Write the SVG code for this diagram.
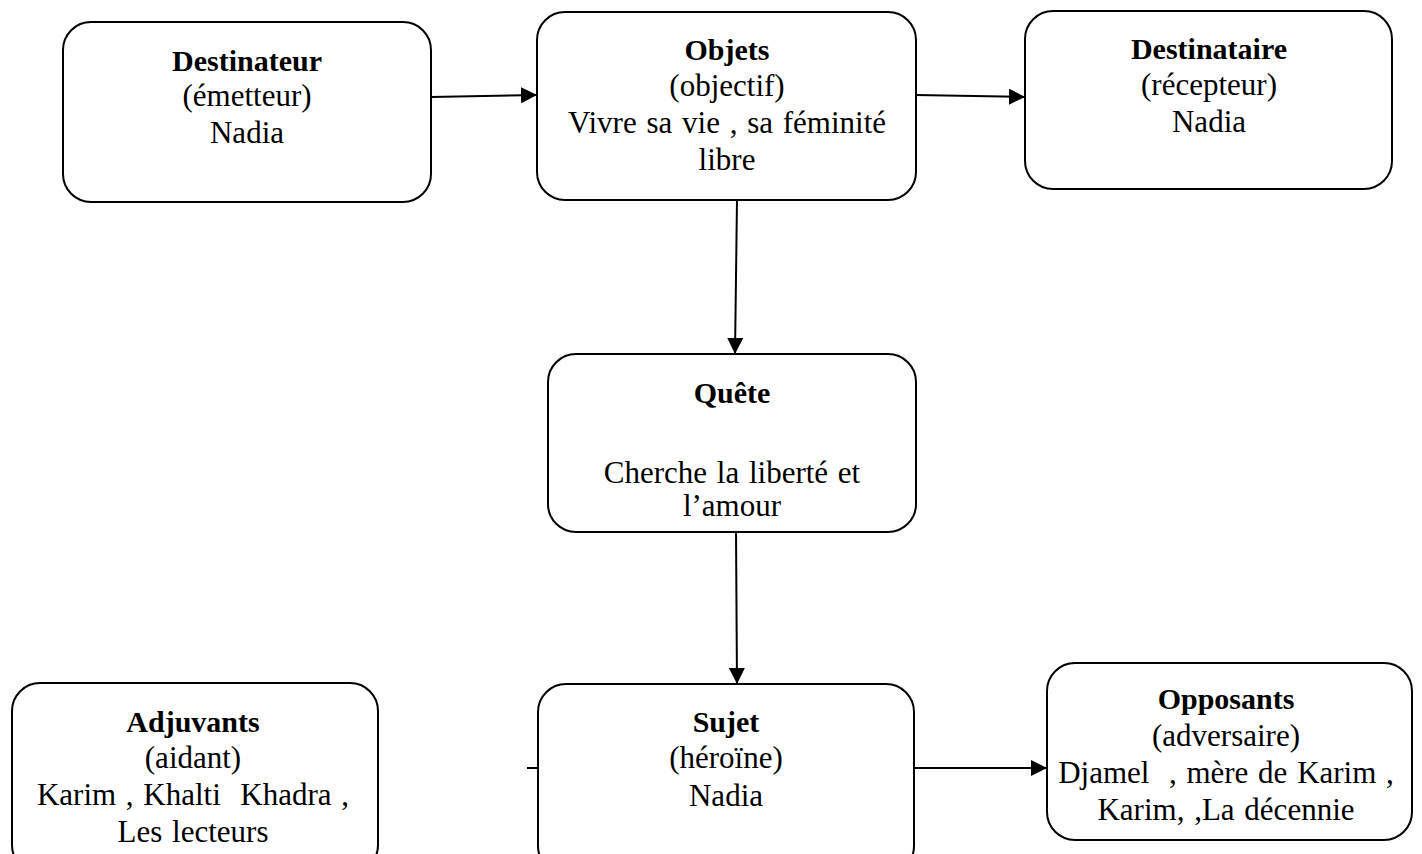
<svg xmlns="http://www.w3.org/2000/svg" width="1422" height="854" viewBox="0 0 1422 854">
<style>
.box{fill:#fff;stroke:#000;stroke-width:2}
text{font-family:"Liberation Serif","Times New Roman",serif;font-size:31px;fill:#000;text-anchor:middle;word-spacing:2px}
.b{font-weight:bold;font-size:30px;word-spacing:0}
.c{stroke:#000;stroke-width:2;fill:none}
</style>
<defs>
<marker id="ah" markerUnits="userSpaceOnUse" markerWidth="18" markerHeight="16" refX="16" refY="8" orient="auto">
<path d="M0,0 L16,8 L0,16 Z" fill="#000"/>
</marker>
</defs>
<rect width="1422" height="854" fill="#fff"/>
<g id="connectors">
<line class="c" x1="431" y1="97" x2="537" y2="95" marker-end="url(#ah)"/>
<line class="c" x1="916" y1="95" x2="1025" y2="97" marker-end="url(#ah)"/>
<line class="c" x1="737" y1="200" x2="735" y2="354" marker-end="url(#ah)"/>
<line class="c" x1="736" y1="532" x2="737" y2="684" marker-end="url(#ah)"/>
<line class="c" x1="914" y1="768" x2="1047" y2="768" marker-end="url(#ah)"/>
<line class="c" x1="527" y1="768" x2="538" y2="768"/>
</g>
<g id="destinateur">
<rect class="box" x="63" y="22" width="368" height="180" rx="28"/>
<text x="247" y="71" class="b">Destinateur</text>
<text x="247" y="106">(émetteur)</text>
<text x="247" y="143">Nadia</text>
</g>
<g id="objets">
<rect class="box" x="537" y="12" width="379" height="188" rx="28"/>
<text x="727" y="60" class="b">Objets</text>
<text x="727" y="96">(objectif)</text>
<text x="727" y="133">Vivre sa vie , sa féminité</text>
<text x="727" y="170">libre</text>
</g>
<g id="destinataire">
<rect class="box" x="1025" y="11" width="367" height="178" rx="28"/>
<text x="1209" y="59" class="b">Destinataire</text>
<text x="1209" y="95">(récepteur)</text>
<text x="1209" y="132">Nadia</text>
</g>
<g id="quete">
<rect class="box" x="548" y="354" width="368" height="178" rx="28"/>
<text x="732" y="403" class="b">Quête</text>
<text x="732" y="483">Cherche la liberté et</text>
<text x="732" y="516">l’amour</text>
</g>
<g id="adjuvants">
<rect class="box" x="12" y="683" width="366" height="190" rx="28"/>
<text x="193" y="732" class="b">Adjuvants</text>
<text x="193" y="768">(aidant)</text>
<text x="193" y="805" xml:space="preserve">Karim , Khalti  Khadra ,</text>
<text x="193" y="842">Les lecteurs</text>
</g>
<g id="sujet">
<rect class="box" x="538" y="684" width="376" height="190" rx="28"/>
<text x="726" y="732" class="b">Sujet</text>
<text x="726" y="768">(héroïne)</text>
<text x="726" y="806">Nadia</text>
</g>
<g id="opposants">
<rect class="box" x="1047" y="663" width="365" height="177" rx="28"/>
<text x="1226" y="709" class="b">Opposants</text>
<text x="1226" y="746">(adversaire)</text>
<text x="1226" y="783" xml:space="preserve">Djamel  , mère de Karim ,</text>
<text x="1226" y="820">Karim, ,La décennie</text>
</g>
</svg>
